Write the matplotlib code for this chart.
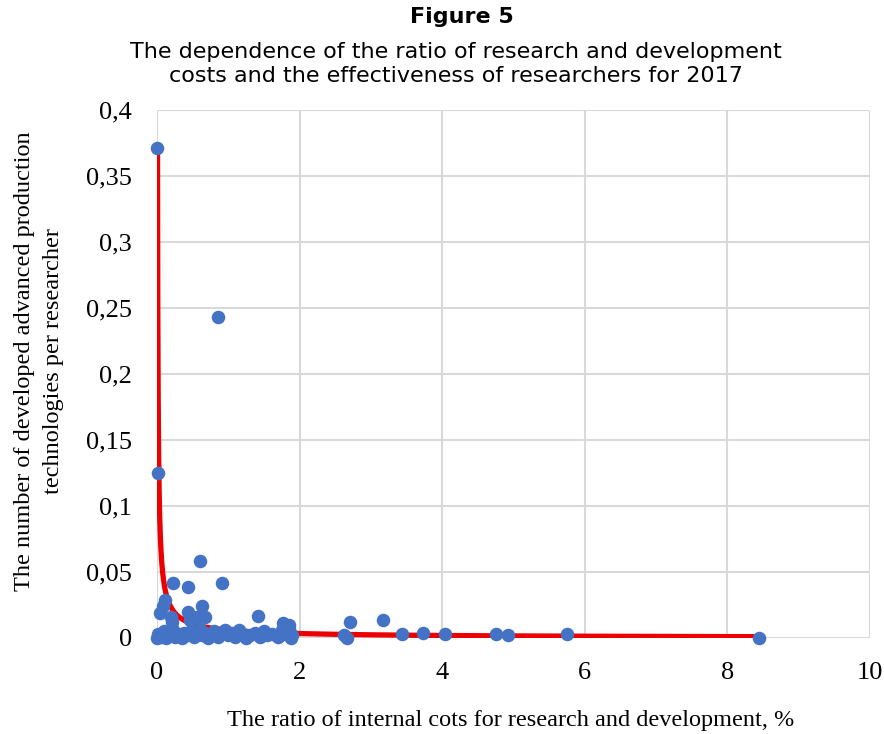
import matplotlib
matplotlib.use("Agg")
import matplotlib.pyplot as plt
import numpy as np

# values
x_ratio = [0.0, 0.01, 0.86, 0.60, 0.22, 0.43, 0.91, 0.11, 0.08, 0.63, 0.43, 0.20,
           0.67, 1.42, 1.77, 1.85, 0.46, 0.04, 0.21, 0.56,
           0.0, 0.02, 0.05, 0.10, 0.12, 0.17, 0.22, 0.25, 0.30, 0.35, 0.38, 0.42,
           0.48, 0.52, 0.55, 0.60, 0.63, 0.68, 0.72, 0.75, 0.80, 0.85, 0.90, 0.95,
           1.00, 1.05, 1.10, 1.15, 1.20, 1.25, 1.30, 1.38, 1.45, 1.50, 1.55, 1.62,
           1.70, 1.75, 1.80, 1.85, 1.90, 1.88,
           2.62, 2.66, 2.71, 3.17, 3.44, 3.73, 4.04, 4.75, 4.93, 5.75, 8.44]
y_tech = [0.371, 0.125, 0.243, 0.058, 0.042, 0.039, 0.042, 0.029, 0.024, 0.024, 0.020, 0.016,
          0.016, 0.017, 0.011, 0.010, 0.014, 0.019, 0.012, 0.016,
          0.0, 0.003, 0.001, 0.005, 0.0, 0.002, 0.006, 0.001, 0.003, 0.0, 0.004, 0.002,
          0.005, 0.001, 0.003, 0.007, 0.002, 0.004, 0.0, 0.002, 0.005, 0.001, 0.003, 0.006,
          0.002, 0.004, 0.001, 0.006, 0.003, 0.0, 0.002, 0.004, 0.001, 0.005, 0.002, 0.003,
          0.001, 0.006, 0.003, 0.007, 0.002, 0.0,
          0.002, 0.0, 0.012, 0.014, 0.003, 0.004, 0.003, 0.003, 0.002, 0.003, 0.0]

# power trendline y = a * x^b as drawn in the chart
trend_a = 0.006
trend_b = -0.833
trend_range = (0.0071, 8.44)

x_ticks = [0, 2, 4, 6, 8, 10]
y_ticks = [0, 0.05, 0.1, 0.15, 0.2, 0.25, 0.3, 0.35, 0.4]
y_ticklabels = ['0', '0,05', '0,1', '0,15', '0,2', '0,25', '0,3', '0,35', '0,4']

fig = plt.figure(figsize=(8.84, 7.34), dpi=100)
ax = fig.add_axes([0.1776, 0.1308, 0.8064, 0.7194])

tx = np.geomspace(trend_range[0], trend_range[1], 400)
ax.plot(tx, trend_a * tx ** trend_b, color='#ee0000', lw=3.8, zorder=2, solid_capstyle='butt')
ax.scatter(x_ratio, y_tech, s=95, color='#4472c4', zorder=3, clip_on=False, linewidths=0)

ax.set_xlim(0, 10)
ax.set_ylim(0, 0.4)
ax.set_xticks(x_ticks)
ax.set_yticks(y_ticks)
ax.set_yticklabels(y_ticklabels)
ax.grid(True, color='#d9d9d9', lw=1.5)
ax.set_axisbelow(True)
for s in ['top', 'right', 'left', 'bottom']:
    ax.spines[s].set_visible(False)
ax.tick_params(length=0, labelsize=19)
ax.tick_params(axis='x', pad=17)
ax.tick_params(axis='y', pad=18)
for lab in ax.get_xticklabels() + ax.get_yticklabels():
    lab.set_family('Liberation Serif')

fig.text(0.578, 0.019, 'The ratio of internal cots for research and development, %',
         family='Liberation Serif', fontsize=17.5, ha='center', va='center')
fig.text(0.0436, 0.508, 'The number of developed advanced production\ntechnologies per researcher',
         family='Liberation Serif', fontsize=17.5, rotation=90, ha='center', va='center',
         linespacing=1.5)

fig.text(0.522, 0.977, 'Figure 5', fontsize=16, fontweight='bold', ha='center', va='center')
fig.text(0.516, 0.913, 'The dependence of the ratio of research and development\ncosts and the effectiveness of researchers for 2017',
         fontsize=16, ha='center', va='center', linespacing=1.25)

fig.savefig('out.png', dpi=100)
